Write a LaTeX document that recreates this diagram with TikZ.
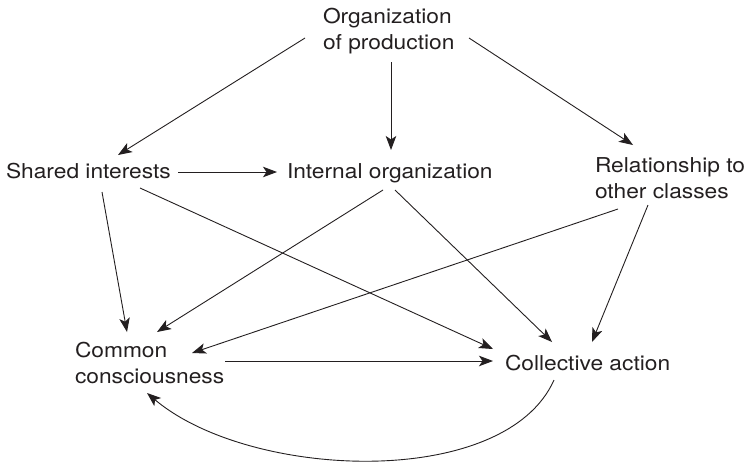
\documentclass[tikz,border=0pt]{standalone}
\usepackage{fontspec}
\setmainfont[FakeStretch=1.11]{TeX Gyre Heros}
\usetikzlibrary{arrows.meta}
\definecolor{ink}{HTML}{231F20}
\begin{document}
\begin{tikzpicture}[x=1pt,y=-1pt,
  lbl/.style={inner sep=0pt, outer sep=0pt, text=ink, font=\fontsize{20.5}{26}\selectfont},
  arr/.style={draw=ink, line width=0.9pt, -{Stealth[length=14pt,width=10.5pt,inset=3.5pt]}}]
\useasboundingbox (0,0) rectangle (747,464);

\node[lbl, align=left, anchor=north west] (org) at (323,8.5) {Organization\\of production};
\node[lbl, anchor=base west] (shared) at (6,178) {Shared interests};
\node[lbl, anchor=base west] (internal) at (287,178) {Internal organization};
\node[lbl, align=left, anchor=north west] (rel) at (595,157.5) {Relationship to\\other classes};
\node[lbl, align=left, anchor=north west] (common) at (75,342.5) {Common\\consciousness};
\node[lbl, anchor=base west] (action) at (505,370) {Collective action};

% from the organization of production
\draw[arr] ([shift={(-18,29.5)}]org.north west) -- ([shift={(112,-23)}]shared.base west);
\draw[arr] ([shift={(68,53.5)}]org.north west) -- ([shift={(104,-28)}]internal.base west);
\draw[arr] ([shift={(146,29.5)}]org.north west) -- ([shift={(38,-12.5)}]rel.north west);

% from shared interests
\draw[arr] ([shift={(172,-6)}]shared.base west) -- ([shift={(-10,-6)}]internal.base west);
\draw[arr] ([shift={(96,14)}]shared.base west) -- ([shift={(52,-10.5)}]common.north west);
\draw[arr] ([shift={(134,10)}]shared.base west) -- ([shift={(-12,-21)}]action.base west);

% from internal organization
\draw[arr] ([shift={(96,12)}]internal.base west) -- ([shift={(82,-10.5)}]common.north west);
\draw[arr] ([shift={(108,12)}]internal.base west) -- ([shift={(47,-28)}]action.base west);

% from relationship to other classes
\draw[arr] ([shift={(23,51.5)}]rel.north west) -- ([shift={(117,10.5)}]common.north west);
\draw[arr] ([shift={(53,47.5)}]rel.north west) -- ([shift={(87,-28)}]action.base west);

% between consciousness and action
\draw[arr] ([shift={(150,18.5)}]common.north west) -- ([shift={(-12,-9)}]action.base west);
\draw[arr] ([shift={(49,10)}]action.base west) .. controls (505,490) and (250,480) .. ([shift={(72,50.5)}]common.north west);
\end{tikzpicture}
\end{document}
